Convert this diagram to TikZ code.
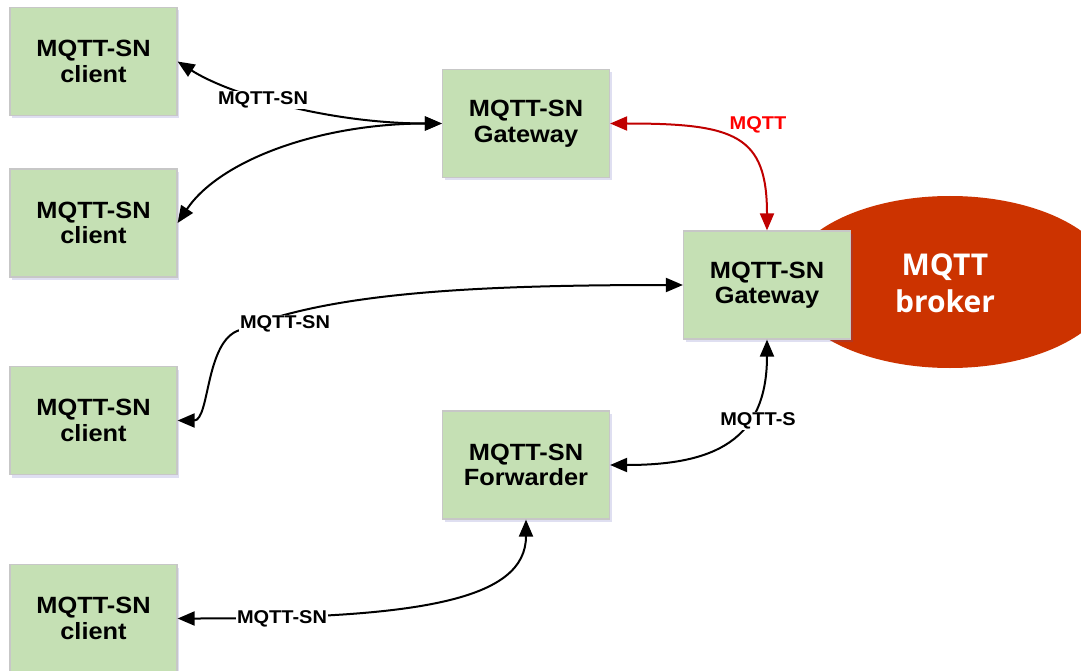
\documentclass[tikz,border=0pt]{standalone}
\usepackage{fontspec}
\setmainfont{Liberation Sans}[FakeStretch=1.08]
\newfontfamily\brokerfont{Open Sans}
\usetikzlibrary{arrows.meta,shadows}
\definecolor{boxgreen}{RGB}{197,224,180}
\definecolor{brokerred}{RGB}{204,51,0}
\definecolor{linkred}{RGB}{192,0,0}

\begin{document}
\begin{tikzpicture}
[
    x=1pt, y=1pt,
    >={Triangle[length=17pt,width=14pt]},
    box/.style={draw=black!22, line width=1.2pt, fill=boxgreen, minimum width=167pt, minimum height=108pt,
        align=center, font=\bfseries\fontsize{23.5}{25.5}\selectfont,
        drop shadow={opacity=0.18, shadow xshift=2pt, shadow yshift=-3pt, fill=blue!40!gray}},
    link/.style={<->, line width=2pt},
    lbl/.style={fill=white, inner sep=1pt, font=\bfseries\fontsize{18.5}{20}\selectfont},
]
\useasboundingbox (0,0) rectangle (1081,-671);

\fill[brokerred] (950,-282) ellipse [x radius=163, y radius=86];
\node[text=white, align=center, font=\brokerfont\bfseries\fontsize{30}{37}\selectfont] (broker) at (945,-283) {MQTT\\broker};

\node[box] (c1) at (93.5,-61.5) {MQTT-SN\\client};
\node[box] (c2) at (93.5,-223) {MQTT-SN\\client};
\node[box] (c3) at (93.5,-420.5) {MQTT-SN\\client};
\node[box] (c4) at (93.5,-618.5) {MQTT-SN\\client};
\node[box] (gw1) at (526,-123.5) {MQTT-SN\\Gateway};
\node[box] (gw2) at (767,-285) {MQTT-SN\\Gateway};
\node[box] (fw) at (526,-465) {MQTT-SN\\Forwarder};

\coordinate (v3) at (240,-330);

\draw[link] (gw1.west) .. controls (330,-123.5) and (230,-95) .. (c1.east);
\draw[link] (gw1.west) .. controls (320,-123.5) and (220,-160) .. (c2.east);
\draw[link] (gw2.west) .. controls (480,-285) and (330,-292) .. (v3) .. controls (205,-340) and (210,-420.5) .. (c3.east);
\draw[link] (c4.east) .. controls (420,-618.5) and (526,-600) .. (fw.south);
\draw[link] (fw.east) .. controls (715,-465) and (767,-440) .. (gw2.south);
\draw[link, linkred] (gw1.east) .. controls (735,-123.5) and (767,-135) .. (gw2.north);

\node[lbl] (l1) at (263,-100) {MQTT-SN};
\node[lbl] (l3) at (285,-324) {MQTT-SN};
\node[lbl] (l4) at (282,-619) {MQTT-SN};
\node[lbl] (l5) at (758,-421) {MQTT-S};
\node[lbl, fill=none, text=red] (l6) at (758,-125) {MQTT};
\end{tikzpicture}
\end{document}
